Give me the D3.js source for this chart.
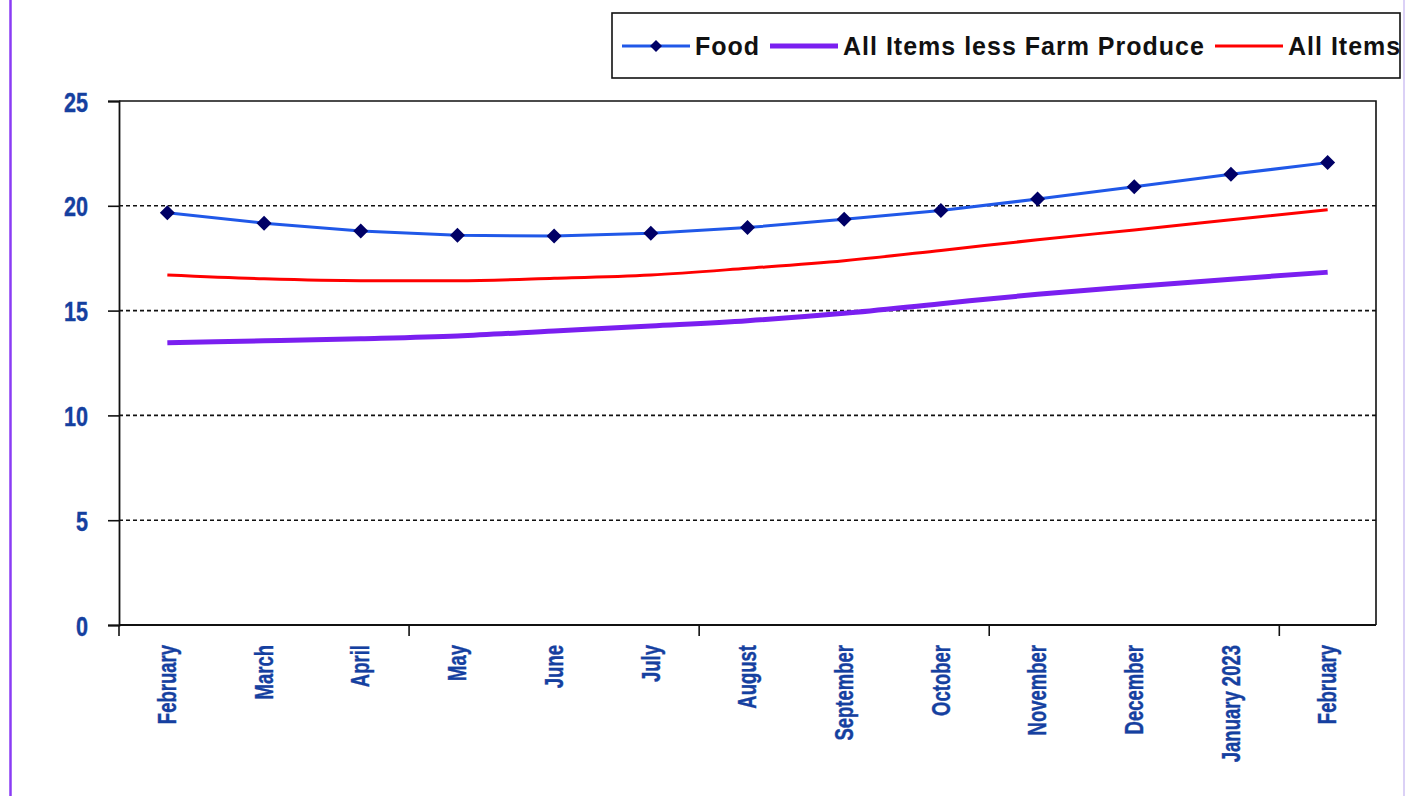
<!DOCTYPE html>
<html>
<head>
<meta charset="utf-8">
<script src="https://cdn.jsdelivr.net/npm/d3@7"></script>
<style>
  body { margin: 0; background: #fff; }
  svg { display: block; }
</style>
</head>
<body>
<div id="chart"></div>
<script>
// months, Feb 2022 .. Feb 2023 (12-month average % change)
const months = ["February", "March", "April", "May", "June", "July", "August",
                "September", "October", "November", "December", "January 2023", "February"];
const foodValues = [19.67, 19.17, 18.80, 18.59, 18.56, 18.69, 18.96, 19.36, 19.78, 20.32, 20.91, 21.50, 22.06];
const coreValues = [13.47, 13.56, 13.66, 13.79, 14.03, 14.27, 14.52, 14.87, 15.33, 15.78, 16.15, 16.50, 16.83];
const allItemsValues = [16.70, 16.52, 16.43, 16.43, 16.54, 16.70, 17.02, 17.38, 17.87, 18.38, 18.85, 19.33, 19.81];
const yTicks = [0, 5, 10, 15, 20, 25];

const config = {
    width: 1416,
    height: 796,
    plot: {left: 119, right: 1376, top: 101, bottom: 625},
    labelColor: '#1540a0'
};

const svg = d3.select('#chart').append('svg')
    .attr('width', config.width)
    .attr('height', config.height);

// page borders
svg.append('line')
    .attr('x1', 10.5).attr('x2', 10.5).attr('y1', 0).attr('y2', config.height)
    .attr('stroke', '#8a3cf5').attr('stroke-width', 2.5);
svg.append('line')
    .attr('x1', 1404).attr('x2', 1404).attr('y1', 0).attr('y2', config.height)
    .attr('stroke', '#cfc2f3').attr('stroke-width', 1.5);

const p = config.plot;

const x = d3.scaleBand()
    .domain(d3.range(months.length))
    .range([p.left, p.right])
    .padding(0);
const xc = i => x(i) + x.bandwidth() / 2;

const y = d3.scaleLinear()
    .domain([0, 25])
    .range([p.bottom, p.top]);

// dashed gridlines
svg.append('g')
    .selectAll('line')
    .data(yTicks.filter(d => d > 0 && d < 25))
    .enter().append('line')
    .attr('x1', p.left).attr('x2', p.right)
    .attr('y1', d => y(d)).attr('y2', d => y(d))
    .attr('stroke', '#111')
    .attr('stroke-width', 1.6)
    .attr('stroke-dasharray', '4,3');

// plot frame (top + right), axes drawn below
svg.append('path')
    .attr('d', `M${p.left},${p.top}H${p.right}V${p.bottom}`)
    .attr('fill', 'none')
    .attr('stroke', '#111')
    .attr('stroke-width', 1.6);

// y axis
const yAxis = svg.append('g')
    .attr('transform', `translate(${p.left},0)`)
    .call(d3.axisLeft(y).tickValues(yTicks).tickSize(11).tickFormat(d3.format('d')));
yAxis.select('.domain').attr('stroke', '#111').attr('stroke-width', 1.8);
yAxis.selectAll('.tick line').attr('stroke', '#111').attr('stroke-width', 1.6);
yAxis.selectAll('.tick text')
    .attr('x', 0).attr('dy', 0)
    .attr('transform', 'translate(-31,10) scale(0.8,1)')
    .attr('fill', config.labelColor)
    .attr('stroke', config.labelColor)
    .attr('stroke-width', 0.4)
    .style('font-family', '"Liberation Sans", Arial, sans-serif')
    .style('font-weight', 'bold')
    .style('font-size', '27px')
    .attr('text-anchor', 'end');

// x axis: ticks every third month boundary
svg.append('line')
    .attr('x1', p.left).attr('x2', p.right)
    .attr('y1', p.bottom).attr('y2', p.bottom)
    .attr('stroke', '#111').attr('stroke-width', 1.8);
svg.append('g')
    .selectAll('line')
    .data(d3.range(0, months.length, 3))
    .enter().append('line')
    .attr('x1', d => x(d)).attr('x2', d => x(d))
    .attr('y1', p.bottom).attr('y2', p.bottom + 11)
    .attr('stroke', '#111').attr('stroke-width', 1.6);

svg.append('g')
    .selectAll('text')
    .data(months)
    .enter().append('text')
    .attr('transform', (d, i) => `translate(${xc(i)},${p.bottom + 20}) rotate(-90) scale(0.74,1)`)
    .attr('dy', '0.35em')
    .attr('text-anchor', 'end')
    .attr('fill', config.labelColor)
    .attr('stroke', config.labelColor)
    .attr('stroke-width', 0.4)
    .style('font-family', '"Liberation Sans", Arial, sans-serif')
    .style('font-weight', 'bold')
    .style('font-size', '25px')
    .text(d => d);

// lines
const smooth = d3.line()
    .x((d, i) => xc(i))
    .y(d => y(d))
    .curve(d3.curveMonotoneX);
const straight = d3.line()
    .x((d, i) => xc(i))
    .y(d => y(d));

svg.append('path')
    .datum(allItemsValues)
    .attr('d', smooth)
    .attr('fill', 'none')
    .attr('stroke', '#ff0000')
    .attr('stroke-width', 3);

svg.append('path')
    .datum(coreValues)
    .attr('d', smooth)
    .attr('fill', 'none')
    .attr('stroke', '#7a1ff0')
    .attr('stroke-width', 5);

svg.append('path')
    .datum(foodValues)
    .attr('d', straight)
    .attr('fill', 'none')
    .attr('stroke', '#2058e8')
    .attr('stroke-width', 3);

const diamond = r => `M0,${-r}L${r},0L0,${r}L${-r},0Z`;
svg.append('g')
    .selectAll('path')
    .data(foodValues)
    .enter().append('path')
    .attr('d', diamond(7.5))
    .attr('transform', (d, i) => `translate(${xc(i)},${y(d)})`)
    .attr('fill', '#000066');

// legend
const legend = svg.append('g');
legend.append('rect')
    .attr('x', 612).attr('y', 13)
    .attr('width', 788).attr('height', 65)
    .attr('fill', '#fff')
    .attr('stroke', '#111')
    .attr('stroke-width', 1.6);

const legendItems = [
    {name: 'Food', color: '#2058e8', width: 3, marker: true, x: 622},
    {name: 'All Items less Farm Produce', color: '#7a1ff0', width: 5, marker: false, x: 770},
    {name: 'All Items', color: '#ff0000', width: 3, marker: false, x: 1215}
];
const li = legend.selectAll('g.item')
    .data(legendItems)
    .enter().append('g')
    .attr('class', 'item')
    .attr('transform', d => `translate(${d.x},46)`);
li.append('line')
    .attr('x1', 0).attr('x2', 68)
    .attr('stroke', d => d.color)
    .attr('stroke-width', d => d.width);
li.filter(d => d.marker).append('path')
    .attr('d', diamond(6))
    .attr('transform', 'translate(34,0)')
    .attr('fill', '#000066');
li.append('text')
    .attr('x', 73)
    .attr('y', 9)
    .style('font-family', '"Liberation Sans", Arial, sans-serif')
    .style('font-weight', 'bold')
    .style('font-size', '25px')
    .style('letter-spacing', '1px')
    .attr('fill', '#111')
    .text(d => d.name);
</script>
</body>
</html>
